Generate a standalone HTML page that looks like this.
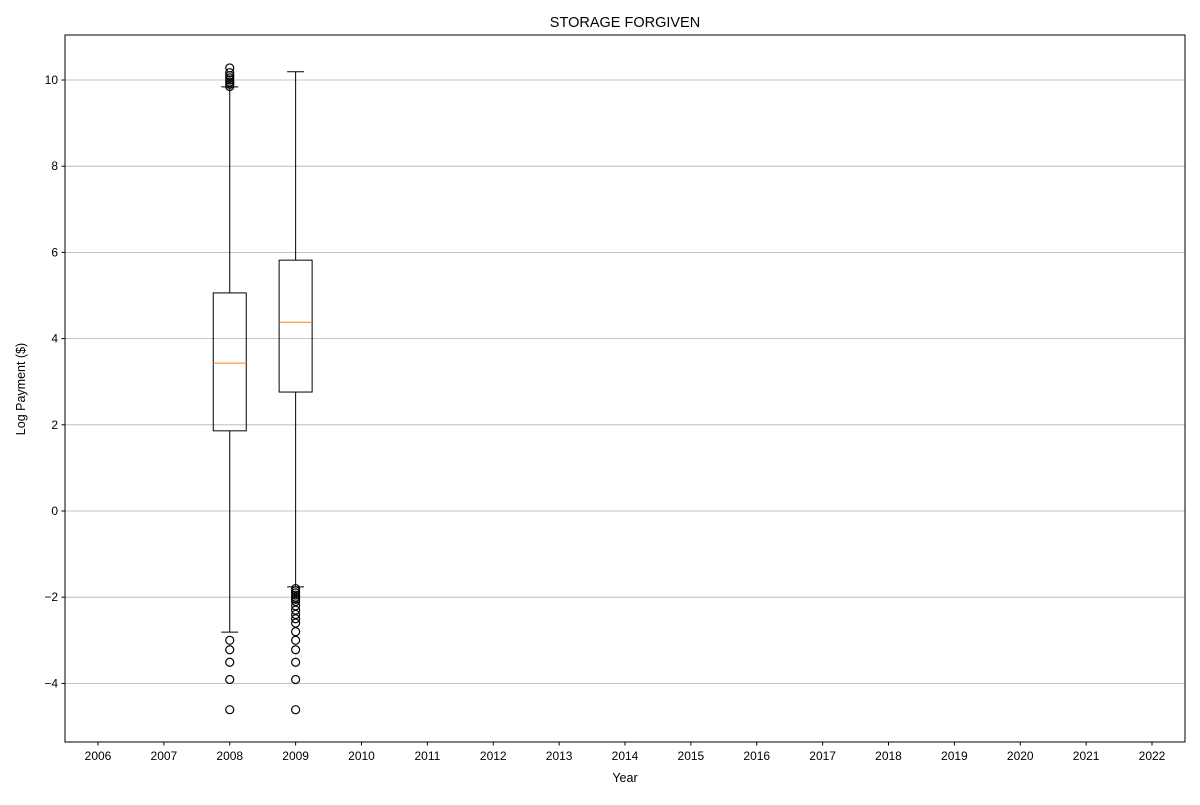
<!DOCTYPE html>
<html><head><meta charset="utf-8"><style>
body{margin:0;background:#fff;font-family:"Liberation Sans","DejaVu Sans",sans-serif}
</style></head><body>
<svg id="c" width="1200" height="800" xmlns="http://www.w3.org/2000/svg"></svg>
<script>
const years=[2006,2007,2008,2009,2010,2011,2012,2013,2014,2015,2016,2017,2018,2019,2020,2021,2022];
const yTicks=[-4,-2,0,2,4,6,8,10];
const boxYears=[2008,2009];
const q1=[1.86,2.76];
const med=[3.43,4.38];
const q3=[5.06,5.82];
const whiskLo=[-2.81,-1.76];
const whiskHi=[9.84,10.19];
const outliers2008=[9.85,9.9,9.95,10.0,10.05,10.1,10.17,10.28,-3.0,-3.22,-3.51,-3.91,-4.61];
const outliers2009=[-1.8,-1.85,-1.9,-1.95,-2.0,-2.05,-2.1,-2.2,-2.3,-2.4,-2.5,-2.6,-2.8,-3.0,-3.22,-3.51,-3.91,-4.61];
const outliers=[outliers2008,outliers2009];

const L=65,R=1185,T=35,B=742;
const x=y=>98+(y-2006)*65.875;
const yv=v=>511-43.1*v;
const svg=document.getElementById('c');
const NS='http://www.w3.org/2000/svg';
function el(t,a,p){const e=document.createElementNS(NS,t);for(const k in a)e.setAttribute(k,a[k]);(p||svg).appendChild(e);return e;}

yTicks.forEach(v=>{
  const g=el('line',{x1:L,x2:R,y1:yv(v),y2:yv(v),stroke:'#b0b0b0','stroke-width':0.8});
  
  
  const tk=el('line',{x1:L-3.5,x2:L,y1:yv(v),y2:yv(v),stroke:'#000'});
  
  
  const t=el('text',{x:L-7,y:yv(v)+4,'text-anchor':'end','font-size':12});
  t.textContent=v<0?'\u2212'+Math.abs(v):v;
  
  
});
years.forEach(yr=>{
  const tk=el('line',{x1:x(yr),x2:x(yr),y1:B,y2:B+3.5,stroke:'#000'});
  
  
  const t=el('text',{x:x(yr),y:B+18,'text-anchor':'middle','font-size':12});
  t.textContent=yr;
  
  
});
boxYears.forEach((yr,i)=>{
  const cx=x(yr),hw=16.5,cw=8.5;
  const g=el('g',{});
  
  
  el('line',{x1:cx,x2:cx,y1:yv(q1[i]),y2:yv(whiskLo[i]),stroke:'#000'},g);
  el('line',{x1:cx,x2:cx,y1:yv(q3[i]),y2:yv(whiskHi[i]),stroke:'#000'},g);
  el('line',{x1:cx-cw,x2:cx+cw,y1:yv(whiskLo[i]),y2:yv(whiskLo[i]),stroke:'#000'},g);
  el('line',{x1:cx-cw,x2:cx+cw,y1:yv(whiskHi[i]),y2:yv(whiskHi[i]),stroke:'#000'},g);
  el('rect',{x:cx-hw,y:yv(q3[i]),width:2*hw,height:yv(q1[i])-yv(q3[i]),fill:'none',stroke:'#000'},g);
  el('line',{x1:cx-hw,x2:cx+hw,y1:yv(med[i]),y2:yv(med[i]),stroke:'#ff7f0e'},g);
  outliers[i].forEach(v=>{
    const c=el('circle',{cx:cx,cy:yv(v),r:4,fill:'none',stroke:'#000','stroke-width':1.2},g);
    
    
  });
});
const fr=el('rect',{x:L,y:T,width:R-L,height:B-T,fill:'none',stroke:'#000','stroke-width':1});


const ti=el('text',{x:(L+R)/2,y:27,'text-anchor':'middle','font-size':14.5});
ti.textContent='STORAGE FORGIVEN';


const xl=el('text',{x:(L+R)/2,y:782,'text-anchor':'middle','font-size':12.5});
xl.textContent='Year';


const yl=el('text',{x:0,y:0,'text-anchor':'middle','font-size':12.5,transform:'translate(25,389) rotate(-90)'});
yl.textContent='Log Payment ($)';


</script>
</body></html>
